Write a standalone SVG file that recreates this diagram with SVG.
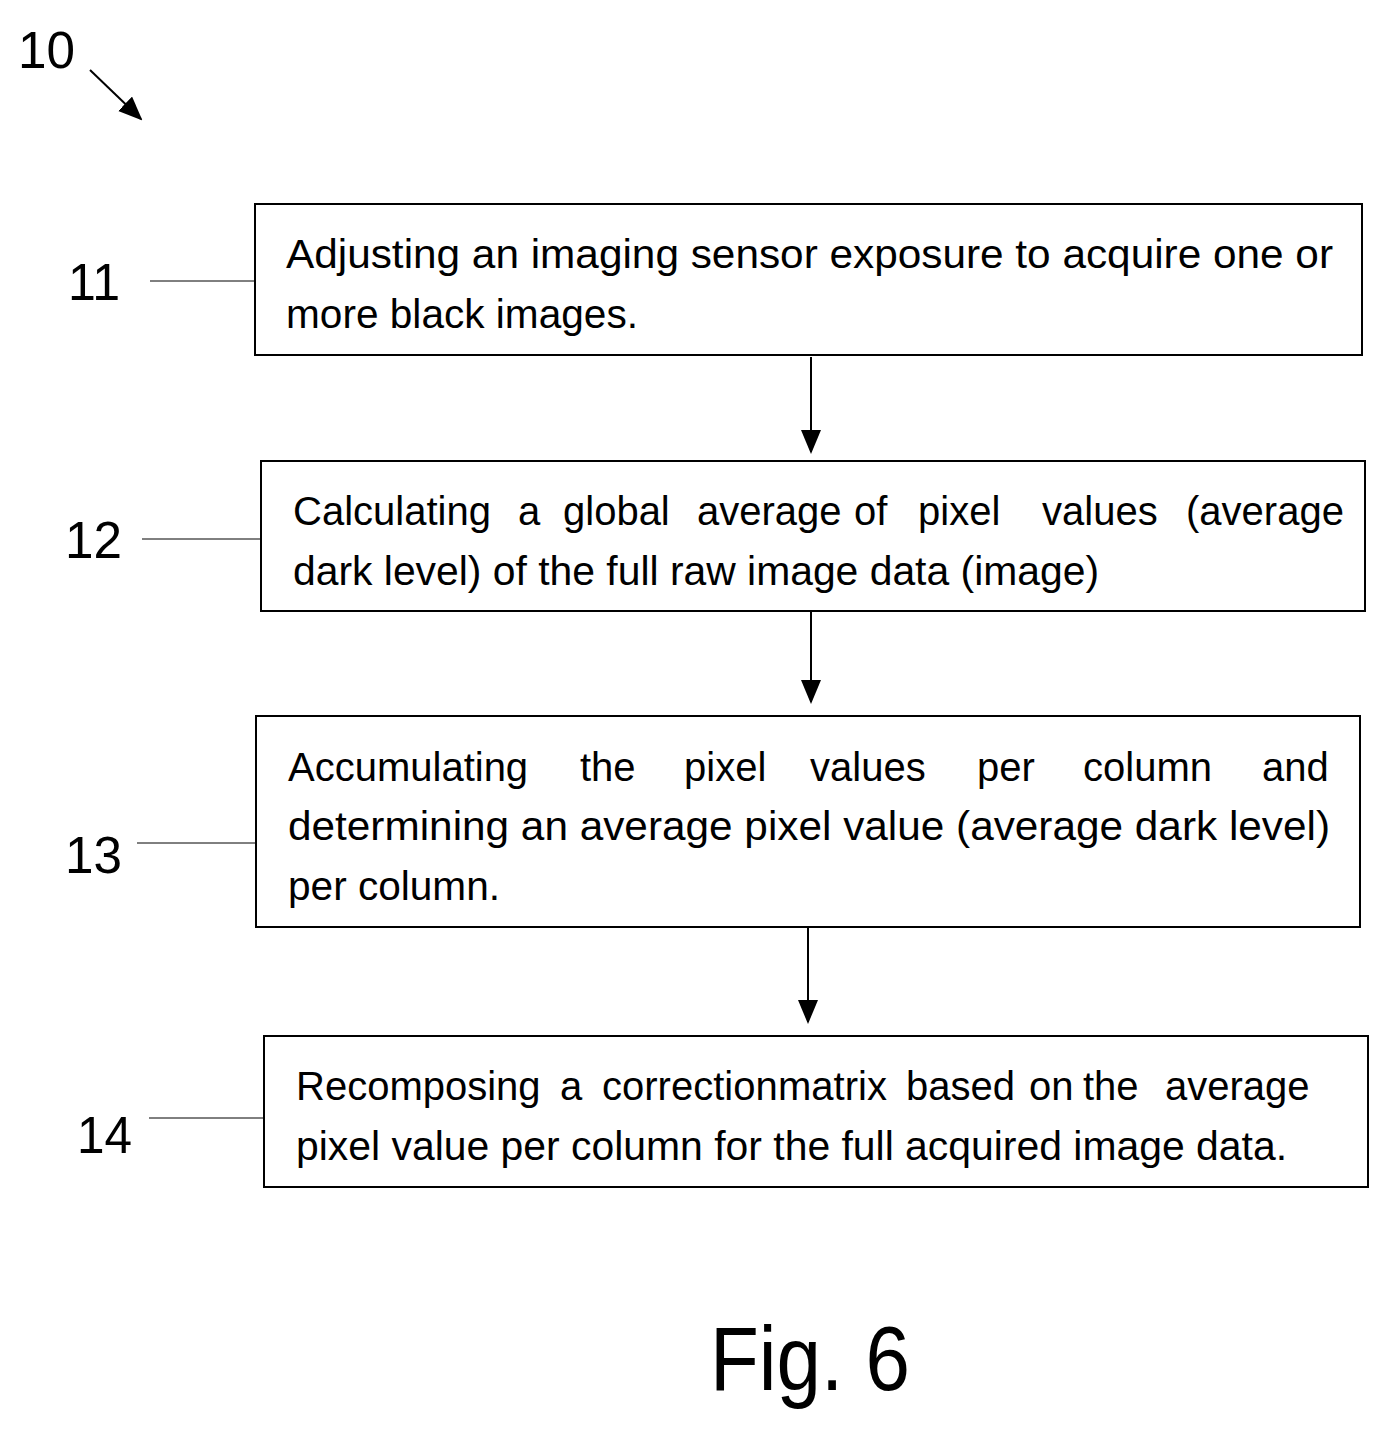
<svg xmlns="http://www.w3.org/2000/svg" width="1390" height="1430" viewBox="0 0 1390 1430">
<style>
.box{fill:#fff;stroke:#000;stroke-width:2}
.t{font-family:"Liberation Sans",Arial,sans-serif;font-size:40px;fill:#000}
.n{font-family:"Liberation Sans",Arial,sans-serif;font-size:52px;fill:#000}
.c{stroke:#000;stroke-width:2;fill:none}
.l{stroke:#000;stroke-width:1;fill:none}
</style>
<defs>
<marker id="ah2" markerWidth="24" markerHeight="24" refX="22" refY="10" orient="auto" markerUnits="userSpaceOnUse">
<path d="M0,0 L24,10 L0,20 Z" fill="#000"/>
</marker>
</defs>
<g id="label10">
<text class="n" x="18" y="68" textLength="57" lengthAdjust="spacingAndGlyphs">10</text>
</g>
<g id="connectors">
<line class="c" x1="90" y1="70" x2="141" y2="119" marker-end="url(#ah2)"/>
<line class="c" x1="811" y1="357" x2="811" y2="452" marker-end="url(#ah2)"/>
<line class="c" x1="811" y1="611" x2="811" y2="702" marker-end="url(#ah2)"/>
<line class="c" x1="808" y1="927" x2="808" y2="1022" marker-end="url(#ah2)"/>
<line class="l" x1="150" y1="281" x2="255" y2="281"/>
<line class="l" x1="142" y1="539" x2="261" y2="539"/>
<line class="l" x1="137" y1="843" x2="256" y2="843"/>
<line class="l" x1="149" y1="1118" x2="264" y2="1118"/>
</g>
<g id="n11">
<text class="n" x="68" y="300" textLength="52" lengthAdjust="spacingAndGlyphs">11</text>
<rect class="box" x="255" y="204" width="1107" height="151"/>
<text class="t" x="286" y="268" textLength="1047" lengthAdjust="spacingAndGlyphs">Adjusting an imaging sensor exposure to acquire one or</text>
<text class="t" x="286" y="328" textLength="352" lengthAdjust="spacingAndGlyphs">more black images.</text>
</g>
<g id="n12">
<text class="n" x="65" y="558" textLength="57" lengthAdjust="spacingAndGlyphs">12</text>
<rect class="box" x="261" y="461" width="1104" height="150"/>
<text class="t" y="525"><tspan x="293">Calculating</tspan><tspan x="518">a</tspan><tspan x="563">global</tspan><tspan x="697">average</tspan><tspan x="854">of</tspan><tspan x="918">pixel</tspan><tspan x="1042">values</tspan><tspan x="1186">(average</tspan></text>
<text class="t" x="293" y="585" textLength="806" lengthAdjust="spacingAndGlyphs">dark level) of the full raw image data (image)</text>
</g>
<g id="n13">
<text class="n" x="65" y="873" textLength="57" lengthAdjust="spacingAndGlyphs">13</text>
<rect class="box" x="256" y="716" width="1104" height="211"/>
<text class="t" y="781"><tspan x="288">Accumulating</tspan><tspan x="580">the</tspan><tspan x="684">pixel</tspan><tspan x="810">values</tspan><tspan x="977">per</tspan><tspan x="1083">column</tspan><tspan x="1262">and</tspan></text>
<text class="t" x="288" y="840" textLength="1042" lengthAdjust="spacingAndGlyphs">determining an average pixel value (average dark level)</text>
<text class="t" x="288" y="900" textLength="212" lengthAdjust="spacingAndGlyphs">per column.</text>
</g>
<g id="n14">
<text class="n" x="77" y="1153" textLength="55" lengthAdjust="spacingAndGlyphs">14</text>
<rect class="box" x="264" y="1036" width="1104" height="151"/>
<text class="t" y="1100"><tspan x="296">Recomposing</tspan><tspan x="560">a</tspan><tspan x="602">correction</tspan><tspan x="778">matrix</tspan><tspan x="906">based</tspan><tspan x="1029">on</tspan><tspan x="1083">the</tspan><tspan x="1165">average</tspan></text>
<text class="t" x="296" y="1160" textLength="991" lengthAdjust="spacingAndGlyphs">pixel value per column for the full acquired image data.</text>
</g>
<g id="caption">
<text x="710" y="1390" font-family="Liberation Sans,Arial,sans-serif" font-size="90" textLength="200" lengthAdjust="spacingAndGlyphs">Fig. 6</text>
</g>
</svg>
